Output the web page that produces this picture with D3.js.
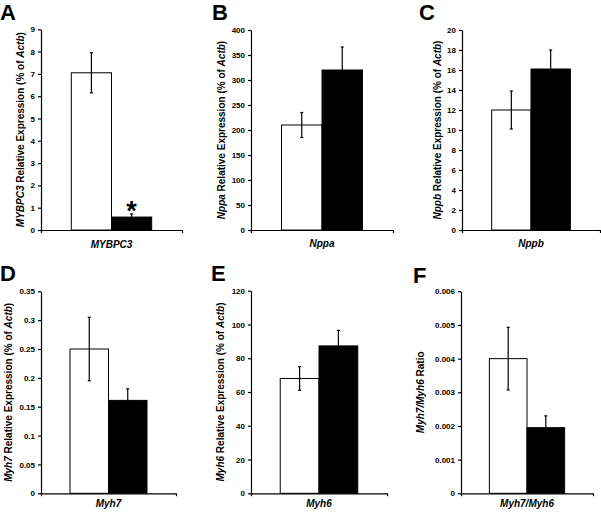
<!DOCTYPE html>
<html>
<head>
<meta charset="utf-8">
<script src="https://cdn.jsdelivr.net/npm/d3@7"></script>
<style>
  html, body { margin: 0; padding: 0; background: #fff; }
  svg { display: block; font-family: "Liberation Sans", Arial, sans-serif; }
</style>
</head>
<body>
<svg id="chart" width="601" height="512"></svg>
<script>
// ---------------- data ----------------
const panelLetters = ["A", "B", "C", "D", "E", "F"];
const genes = ["MYBPC3", "Nppa", "Nppb", "Myh7", "Myh6", "Myh7/Myh6"];
const groups = ["control", "mutant"];
const controlMean = [7.05, 210, 12.0, 0.25, 68, 0.0040];
const controlErr  = [0.9, 25, 1.9, 0.055, 7, 0.00093];
const mutantMean  = [0.58, 320, 16.1, 0.161, 87.3, 0.00195];
const mutantErr   = [0.14, 46, 1.9, 0.02, 9.2, 0.00035];
const yMax = [9, 400, 20, 0.35, 120, 0.006];
const yTickValues = [
  [0, 1, 2, 3, 4, 5, 6, 7, 8, 9],
  [0, 50, 100, 150, 200, 250, 300, 350, 400],
  [0, 2, 4, 6, 8, 10, 12, 14, 16, 18, 20],
  [0, 0.05, 0.1, 0.15, 0.2, 0.25, 0.3, 0.35],
  [0, 20, 40, 60, 80, 100, 120],
  [0, 0.001, 0.002, 0.003, 0.004, 0.005, 0.006]
];
const yTickLabels = [
  ["0", "1", "2", "3", "4", "5", "6", "7", "8", "9"],
  ["0", "50", "100", "150", "200", "250", "300", "350", "400"],
  ["0", "2", "4", "6", "8", "10", "12", "14", "16", "18", "20"],
  ["0", "0.05", "0.1", "0.15", "0.2", "0.25", "0.3", "0.35"],
  ["0", "20", "40", "60", "80", "100", "120"],
  ["0", "0.001", "0.002", "0.003", "0.004", "0.005", "0.006"]
];
const yLabelSuffix = [
  " Relative Expression (% of ", " Relative Expression (% of ", " Relative Expression (% of ",
  " Relative Expression (% of ", " Relative Expression (% of ", " Ratio"
];
const significance = ["*", "", "", "", "", ""];

// ---------------- layout ----------------
const layout = [
  {left: 41,  right: 182, top: 29.3,  bottom: 230,   labelX: 21,    letterX: 0,   letterY: 20,  xLabDy: 17.5},
  {left: 251, right: 393, top: 30,    bottom: 230,   labelX: 221.5, letterX: 212, letterY: 20,  xLabDy: 17},
  {left: 462, right: 600, top: 30,    bottom: 230,   labelX: 438,   letterX: 419, letterY: 20,  xLabDy: 17},
  {left: 41,  right: 176, top: 291.3, bottom: 493.3, labelX: 9,     letterX: 0,   letterY: 281, xLabDy: 13.5},
  {left: 251, right: 387, top: 290.7, bottom: 493.3, labelX: 221,   letterX: 211, letterY: 281, xLabDy: 13.5},
  {left: 461, right: 593, top: 291.3, bottom: 493.3, labelX: 421,   letterX: 413, letterY: 283, xLabDy: 13.5}
];

const svg = d3.select("#chart");

panelLetters.forEach((letter, i) => {
  const L = layout[i];
  const g = svg.append("g");

  const y = d3.scaleLinear().domain([0, yMax[i]]).range([L.bottom, L.top]);
  const x0 = d3.scaleBand().domain([genes[i]]).range([L.left, L.right]).paddingInner(0).paddingOuter(0.377);
  const x1 = d3.scaleBand().domain(groups).range([0, x0.bandwidth()]).padding(0);

  const rows = [
    {group: "control", mean: controlMean[i], err: controlErr[i], fill: "#fff"},
    {group: "mutant",  mean: mutantMean[i],  err: mutantErr[i],  fill: "#000"}
  ];

  // bars
  g.selectAll("rect.bar").data(rows).enter().append("rect")
    .attr("class", "bar")
    .attr("x", d => x0(genes[i]) + x1(d.group))
    .attr("width", x1.bandwidth())
    .attr("y", d => y(d.mean))
    .attr("height", d => y(0) - y(d.mean))
    .attr("fill", d => d.fill)
    .attr("stroke", "#000")
    .attr("stroke-width", 1);

  // error bars
  const cx = d => x0(genes[i]) + x1(d.group) + x1.bandwidth() / 2;
  g.selectAll("line.err").data(rows).enter().append("line")
    .attr("x1", cx).attr("x2", cx)
    .attr("y1", d => y(d.mean - d.err))
    .attr("y2", d => y(d.mean + d.err))
    .attr("stroke", "#000").attr("stroke-width", 1.2);
  g.selectAll("line.capT").data(rows).enter().append("line")
    .attr("x1", d => cx(d) - 1.5).attr("x2", d => cx(d) + 1.5)
    .attr("y1", d => y(d.mean + d.err)).attr("y2", d => y(d.mean + d.err))
    .attr("stroke", "#000").attr("stroke-width", 1.2);
  g.selectAll("line.capB").data(rows).enter().append("line")
    .attr("x1", d => cx(d) - 1.5).attr("x2", d => cx(d) + 1.5)
    .attr("y1", d => y(d.mean - d.err)).attr("y2", d => y(d.mean - d.err))
    .attr("stroke", "#000").attr("stroke-width", 1.2);

  // significance marker
  if (significance[i]) {
    const m = rows[1];
    g.append("text")
      .attr("x", cx(m))
      .attr("y", y(m.mean + m.err) + 6)
      .attr("text-anchor", "middle")
      .attr("font-size", 27)
      .attr("font-weight", "bold")
      .text(significance[i]);
  }

  // y axis
  const yAxis = d3.axisLeft(y)
    .tickValues(yTickValues[i])
    .tickFormat((d, k) => yTickLabels[i][k])
    .tickSizeInner(3).tickSizeOuter(0).tickPadding(3);
  const ya = g.append("g").attr("transform", `translate(${L.left},0)`).call(yAxis);
  ya.select(".domain").attr("stroke", "#000").attr("stroke-width", 1.2);
  ya.selectAll(".tick line").attr("stroke", "#000").attr("stroke-width", 1.2);
  ya.selectAll(".tick text")
    .attr("font-family", "Liberation Sans, Arial, sans-serif")
    .attr("font-size", 8).attr("font-weight", "bold").attr("fill", "#000");

  // x axis
  const xAxis = d3.axisBottom(x0).tickValues([]).tickSizeOuter(3);
  const xa = g.append("g").attr("transform", `translate(0,${L.bottom})`).call(xAxis);
  xa.select(".domain").attr("stroke", "#000").attr("stroke-width", 1.2);

  // x label
  g.append("text")
    .attr("x", x0(genes[i]) + x0.bandwidth() / 2)
    .attr("y", L.bottom + L.xLabDy)
    .attr("text-anchor", "middle")
    .attr("font-size", 10).attr("font-weight", "bold").attr("font-style", "italic")
    .text(genes[i]);

  // y label
  const yc = (L.top + L.bottom) / 2;
  const yl = g.append("text")
    .attr("transform", `translate(${L.labelX},${yc}) rotate(-90)`)
    .attr("text-anchor", "middle")
    .attr("dominant-baseline", "middle")
    .attr("font-size", 10).attr("font-weight", "bold");
  yl.append("tspan").attr("font-style", "italic").text(genes[i]);
  yl.append("tspan").text(yLabelSuffix[i]);
  if (i < 5) {
    yl.append("tspan").attr("font-style", "italic").text("Actb");
    yl.append("tspan").text(")");
  }

  // panel letter
  g.append("text")
    .attr("x", L.letterX).attr("y", L.letterY)
    .attr("font-size", 22).attr("font-weight", "bold")
    .text(letter);
});
</script>
</body>
</html>
